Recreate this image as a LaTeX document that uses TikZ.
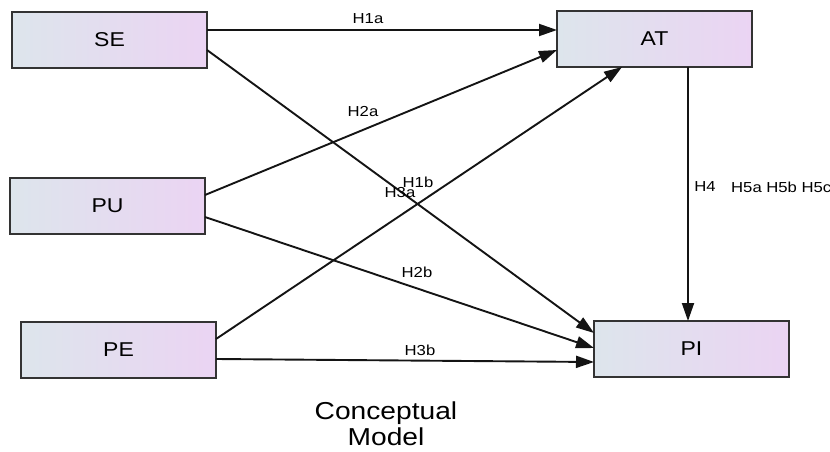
\documentclass[tikz,border=0pt]{standalone}
\usepackage{fontspec}
\setmainfont{Liberation Sans}[FakeStretch=1.15]
\usetikzlibrary{arrows.meta}
\definecolor{boxL}{HTML}{DDE5EC}
\definecolor{boxR}{HTML}{EBD4F3}
\definecolor{edge}{HTML}{333333}
\tikzset{
  box/.style={draw=edge, line width=2pt, minimum width=195pt, minimum height=56pt,
    inner sep=0pt, left color=boxL, right color=boxR, font=\fontsize{20}{24}\selectfont},
  link/.style={line width=1.9pt, draw=black!92,
    -{Triangle[length=18pt,width=12pt]}},
  lab/.style={font=\fontsize{14.5}{16}\selectfont, inner sep=0pt},
}
\begin{document}
\begin{tikzpicture}[x=1pt,y=-1pt]
\useasboundingbox (0,0) rectangle (830,452);
\node[box] (SE) at (109.5,40) {SE};
\node[box] (AT) at (654.5,39) {AT};
\node[box] (PU) at (107.5,206) {PU};
\node[box] (PE) at (118.5,350) {PE};
\node[box] (PI) at (691.5,349) {PI};

\coordinate (seA) at (207,30);
\coordinate (atA) at (557,30);
\coordinate (seB) at (207,50);
\coordinate (piA) at (594,333);
\coordinate (puA) at (205,195);
\coordinate (atB) at (557,50);
\coordinate (puB) at (205,217);
\coordinate (piB) at (594,348);
\coordinate (peA) at (216,339);
\coordinate (atC) at (622,67);
\coordinate (peB) at (216,359);
\coordinate (piC) at (594,362);
\coordinate (atD) at (688,67);
\coordinate (piD) at (688,321);

\draw[link] (seA) -- (atA);
\draw[link] (seB) -- (piA);
\draw[link] (puA) -- (atB);
\draw[link] (puB) -- (piB);
\draw[link] (peA) -- (atC);
\draw[link] (peB) -- (piC);
\draw[link] (atD) -- (piD);

\node[lab] (h1a) at (368,19) {H1a};
\node[lab] (h2a) at (363,112) {H2a};
\node[lab] (h1b) at (418,182) {H1b};
\node[lab] (h3a) at (400,193) {H3a};
\node[lab] (h2b) at (417,272) {H2b};
\node[lab] (h3b) at (420,350) {H3b};
\node[lab] (h4) at (705,187) {H4};
\node[lab, anchor=west] (h5) at (731,187) {H5a H5b H5c};

\node[font=\fontsize{24.5}{26}\selectfont, align=center, inner sep=0pt] (cm) at (386,424) {Conceptual\\Model};
\end{tikzpicture}
\end{document}
